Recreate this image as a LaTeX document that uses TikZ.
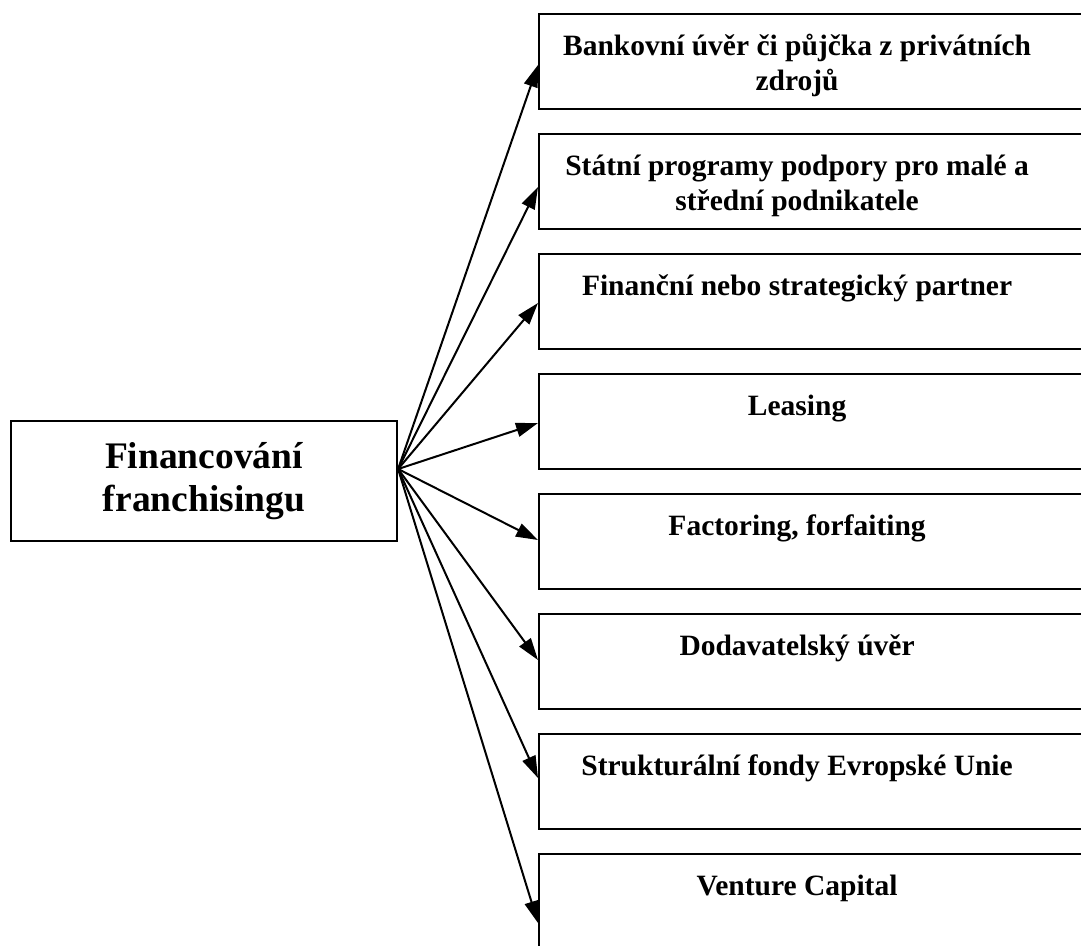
\documentclass[tikz,border=0pt]{standalone}
\usepackage{fontspec}
\setmainfont{Liberation Serif}
\usetikzlibrary{arrows.meta}

\begin{document}
\begin{tikzpicture}[x=1pt,y=-1pt,line width=2.2pt]
	\tikzset{zdroj/.style={rectangle,draw,anchor=north west,minimum width=560pt,inner sep=0pt,text height=41pt,text depth=54pt,font=\fontsize{29.5}{35}\selectfont\bfseries}}
	\useasboundingbox (0,0) rectangle (1081,945);
	\clip (0,0) rectangle (1081,945);
	% noeud central
	\node (FIN) at (204,481) [rectangle,draw,minimum width=386pt,minimum height=120pt,align=center,font=\fontsize{37.5}{43}\selectfont\bfseries] {Financování\\franchisingu};
	\coordinate (HUB) at ([yshift=12pt]FIN.east);
	% sources de financement
	\node (BANK) at (538,13) [zdroj] {\begin{tabular}[t]{c}Bankovní úvěr či půjčka z privátních\\zdrojů\end{tabular}\kern44pt};
	\node (STAT) at (538,133) [zdroj] {\begin{tabular}[t]{c}Státní programy podpory pro malé a\\střední podnikatele\end{tabular}\kern44pt};
	\node (PART) at (538,253) [zdroj] {\begin{tabular}[t]{c}Finanční nebo strategický partner\end{tabular}\kern44pt};
	\node (LEAS) at (538,373) [zdroj] {\begin{tabular}[t]{c}Leasing\end{tabular}\kern44pt};
	\node (FACT) at (538,493) [zdroj] {\begin{tabular}[t]{c}Factoring, forfaiting\end{tabular}\kern44pt};
	\node (DODA) at (538,613) [zdroj] {\begin{tabular}[t]{c}Dodavatelský úvěr\end{tabular}\kern44pt};
	\node (STRU) at (538,733) [zdroj] {\begin{tabular}[t]{c}Strukturální fondy Evropské Unie\end{tabular}\kern44pt};
	\node (VENT) at (538,853) [zdroj] {\begin{tabular}[t]{c}Venture Capital\end{tabular}\kern44pt};
	% fleches
	\foreach \b/\d in {BANK/52,STAT/54,PART/50,LEAS/50,FACT/47,DODA/47,STRU/45,VENT/70}
		\draw[line width=2pt,->,>={Triangle[length=22pt,width=14pt]}] (HUB) -- ([yshift=-\d pt]\b.north west);
\end{tikzpicture}
\end{document}
